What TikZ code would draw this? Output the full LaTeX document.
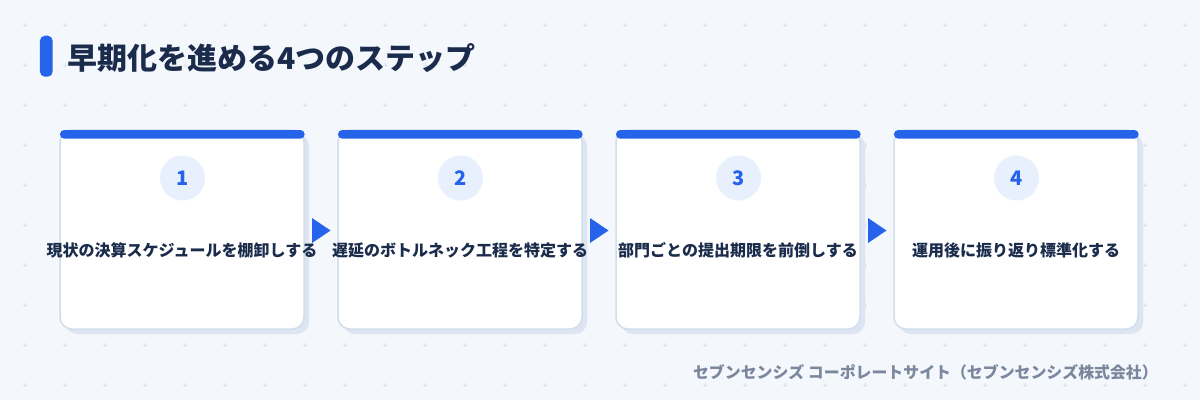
\documentclass[tikz,border=0pt]{standalone}
\usepackage{fontspec}
\newfontfamily\jp{Noto Sans CJK JP}
\usetikzlibrary{calc}
\definecolor{bg}{HTML}{F4F7FC}
\definecolor{gridc}{HTML}{D9E1EC}
\definecolor{accent}{HTML}{2563EB}
\definecolor{navy}{HTML}{1A2B4B}
\definecolor{circfill}{HTML}{E8F0FD}
\definecolor{cardline}{HTML}{D3DEEC}
\definecolor{shadowc}{HTML}{DCE5F1}
\definecolor{footc}{HTML}{7A879C}
\tikzset{
  gridmark/.style={draw=gridc, line width=0.8pt},
  titlebar/.style={fill=accent, rounded corners=5pt, minimum width=12.7pt, minimum height=41pt, inner sep=0pt, outer sep=0pt},
  titletext/.style={text=navy, font=\jp\bfseries\fontsize{30}{36}\selectfont, inner sep=0pt, anchor=west},
  shadowbox/.style={fill=shadowc, rounded corners=12pt, minimum width=244pt, minimum height=200pt, inner sep=0pt, outer sep=0pt},
  card/.style={fill=white, draw=cardline, line width=1.5pt, rounded corners=12pt, minimum width=244pt, minimum height=199pt, inner sep=0pt, outer sep=0pt},
  topbar/.style={fill=accent, rounded corners=4.3pt, minimum width=244.7pt, minimum height=8.7pt, inner sep=0pt, outer sep=0pt},
  numcirc/.style={circle, fill=circfill, minimum size=45pt, inner sep=0pt, text=accent, font=\jp\bfseries\fontsize{20}{24}\selectfont},
  steptext/.style={text=navy, font=\jp\bfseries\fontsize{16}{19}\selectfont, inner sep=0pt},
  flowtri/.style={fill=accent},
  foottext/.style={text=footc, font=\jp\bfseries\fontsize{15.9}{18}\selectfont, inner sep=0pt, anchor=east}
}
\begin{document}
\begin{tikzpicture}[x=1pt,y=-1pt]
\fill[bg] (0,0) rectangle (1200,400);
\useasboundingbox (0,0) rectangle (1200,400);
\foreach \x in {25,65,...,1185} {
  \foreach \y in {25,65,...,385} {
    \draw[gridmark] (\x-2,\y) -- (\x+2,\y) (\x,\y-2) -- (\x,\y+2);
  }
}
\node[titlebar] (tb) at (46.3,56.2) {};
\node[titletext] (title) at (67,58) {早期化を進める4つのステップ};
\foreach \i/\t in {1/{現状の決算スケジュールを棚卸しする},2/{遅延のボトルネック工程を特定する},3/{部門ごとの提出期限を前倒しする},4/{運用後に振り返り標準化する}} {
  \pgfmathsetmacro\cx{182+278*(\i-1)}
  \node[shadowbox] (s\i) at ({\cx+5},234) {};
  \node[card] (c\i) at (\cx,229.5) {};
  \node[topbar] (b\i) at ({\cx+0.3},134.35) {};
  \node[numcirc] (n\i) at ({\cx+0.5},178) {\i};
  \node[steptext] (t\i) at (\cx,250) {\t};
}
\foreach \i in {1,2,3} {
  \fill[flowtri] ($(c\i.east)+(8,-11.5)$) -- ($(c\i.east)+(8,13.5)$) -- ($(c\i.east)+(26.5,1)$) -- cycle;
}
\node[foottext] (foot) at (1158,372.5) {セブンセンシズ コーポレートサイト（セブンセンシズ株式会社）};
\end{tikzpicture}
\end{document}
